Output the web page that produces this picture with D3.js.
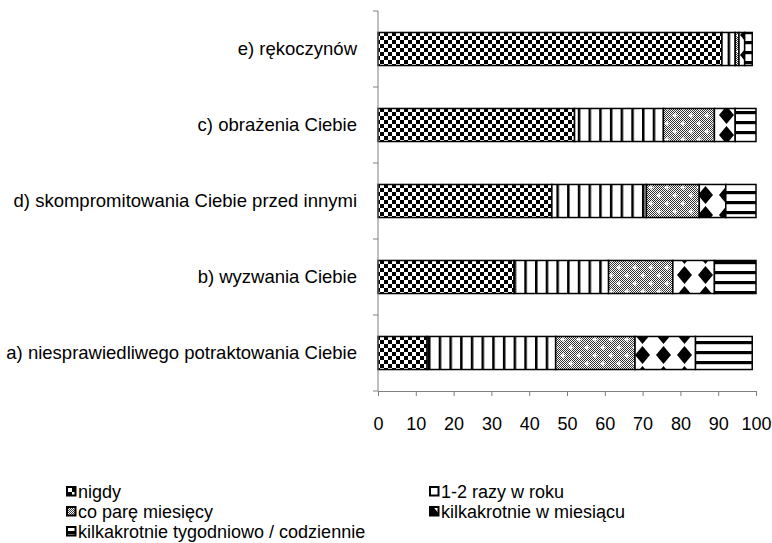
<!DOCTYPE html>
<html><head><meta charset="utf-8">
<script src="https://cdn.jsdelivr.net/npm/d3@7"></script>
<style>body{margin:0;background:#fff}svg{display:block}text{font-family:"Liberation Sans",Arial,sans-serif;font-size:18px;fill:#000}</style>
</head><body>
<script>
const categories = ["e) rękoczynów","c) obrażenia Ciebie","d) skompromitowania Ciebie przed innymi","b) wyzwania Ciebie","a) niesprawiedliwego potraktowania Ciebie"];
const seriesNames = ["nigdy","1-2 razy w roku","co parę miesięcy","kilkakrotnie w miesiącu","kilkakrotnie tygodniowo / codziennie"];
const nigdy      = [91, 52, 46, 36, 13];
const razyWRoku  = [3.5, 23.5, 25, 25, 34];
const coPare     = [1, 13.5, 14, 17, 21];
const wMiesiacu  = [1.5, 5.5, 7, 11, 16];
const tygodniowo = [2, 5.5, 8, 11, 15];
const xTicks = [0,10,20,30,40,50,60,70,80,90,100];

const W=772,H=543;
const svg=d3.select("body").append("svg").attr("width",W).attr("height",H);
const defs=svg.append("defs");
let p=defs.append("pattern").attr("id","p0").attr("patternUnits","userSpaceOnUse").attr("width",8).attr("height",8);
p.append("rect").attr("width",8).attr("height",8).attr("fill","#fff");
p.append("rect").attr("width",4).attr("height",4).attr("fill","#000");
p.append("rect").attr("x",4).attr("y",4).attr("width",4).attr("height",4).attr("fill","#000");
p=defs.append("pattern").attr("id","p1").attr("patternUnits","userSpaceOnUse").attr("width",10.7).attr("height",10);
p.append("rect").attr("width",10.7).attr("height",10).attr("fill","#fff");
p.append("rect").attr("x",0).attr("width",2.5).attr("height",10).attr("fill","#000");
p=defs.append("pattern").attr("id","p2").attr("patternUnits","userSpaceOnUse").attr("width",16).attr("height",16);
p.append("rect").attr("width",16).attr("height",16).attr("fill","#fff");
for(let i=0;i<16;i++)for(let j=0;j<16;j++){if((i+j)%2===0)p.append("rect").attr("x",i).attr("y",j).attr("width",1).attr("height",1).attr("fill","#333");}
p.append("path").attr("d","M3,1V6M0.5,3.5H5.5M11,9V14M8.5,11.5H13.5").attr("stroke","#fff").attr("stroke-width",1.3);
p=defs.append("pattern").attr("id","p3").attr("patternUnits","userSpaceOnUse").attr("width",21).attr("height",20).attr("x",2).attr("y",5);
p.append("rect").attr("width",21).attr("height",20).attr("fill","#fff");
p.append("path").attr("d","M10.5,1L18,10L10.5,19L3,10Z").attr("fill","#000");
p=defs.append("pattern").attr("id","p4").attr("patternUnits","userSpaceOnUse").attr("width",10).attr("height",10).attr("y",1);
p.append("rect").attr("width",10).attr("height",10).attr("fill","#fff");
p.append("rect").attr("y",0).attr("width",10).attr("height",3.2).attr("fill","#000");

const x=d3.scaleLinear().domain([0,100]).range([378,756]);
const y=d3.scaleBand().domain(categories).range([11,391]).paddingInner(0.565).paddingOuter(0.2825);

const table=categories.map((c,i)=>({cat:c,s0:nigdy[i],s1:razyWRoku[i],s2:coPare[i],s3:wMiesiacu[i],s4:tygodniowo[i]}));
const stack=d3.stack().keys(["s0","s1","s2","s3","s4"])(table);

const g=svg.append("g");
stack.forEach((layer,k)=>{
  g.selectAll(null).data(layer).join("rect")
   .attr("x",d=>x(d[0])).attr("width",d=>x(d[1])-x(d[0]))
   .attr("y",d=>y(d.data.cat)).attr("height",y.bandwidth())
   .attr("fill",`url(#p${k})`).attr("stroke","#000").attr("stroke-width",1.5);
});

const ax=svg.append("g").attr("transform","translate(0,391)").call(d3.axisBottom(x).tickValues(xTicks).tickSize(5).tickPadding(21).tickSizeOuter(0));
ax.select(".domain").attr("stroke","#808080");
ax.selectAll(".tick line").attr("stroke","#808080");
ax.selectAll("text").style("font-size","18px").style("font-family","Liberation Sans, Arial, sans-serif");

const yTickVals=d3.range(0,categories.length+1).map(i=>11+i*76);
const ay=svg.append("g");
ay.append("line").attr("x1",378).attr("x2",378).attr("y1",11).attr("y2",391).attr("stroke","#808080");
ay.selectAll(null).data(yTickVals).join("line").attr("x1",373).attr("x2",378).attr("y1",d=>d).attr("y2",d=>d).attr("stroke","#808080");
svg.append("g").selectAll("text").data(categories).join("text")
  .attr("x",357).attr("y",d=>y(d)+y.bandwidth()/2).attr("dy","0.35em").attr("text-anchor","end")
  .style("font-size","18.5px").text(d=>d);

const legPos=[[66,492],[429,492],[66,512],[429,512],[66,532]];
const leg=svg.append("g");
seriesNames.forEach((n,i)=>{
  const [lx,ly]=legPos[i];
  leg.append("rect").attr("x",lx+1).attr("y",ly-5).attr("width",8.5).attr("height",8.5).attr("fill",`url(#p${i})`).attr("stroke","#000").attr("stroke-width",2);
  leg.append("text").attr("x",lx+12).attr("y",ly).attr("dy","0.35em").text(n);
});
</script>
</body></html>
